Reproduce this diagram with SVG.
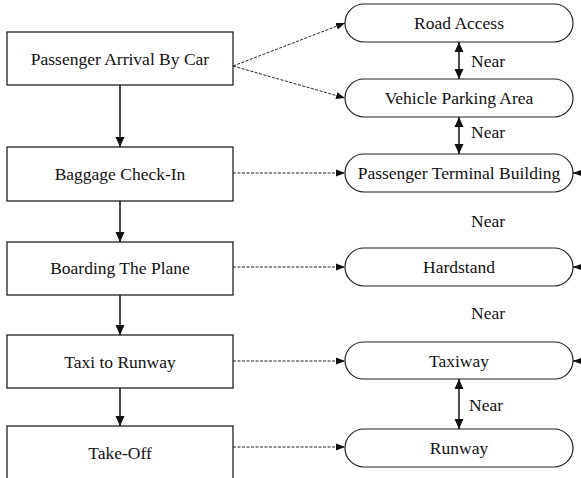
<svg xmlns="http://www.w3.org/2000/svg" width="581" height="478" viewBox="0 0 581 478">
  <style>
    .box { fill: #fff; stroke: #222; stroke-width: 1.3; }
    .pill { fill: #fff; stroke: #222; stroke-width: 1.2; }
    .lbl { font-family: "Liberation Serif", "DejaVu Serif", serif; font-size: 17.5px; fill: #111; text-anchor: middle; dominant-baseline: central; }
    .near { font-family: "Liberation Serif", "DejaVu Serif", serif; font-size: 17.5px; fill: #111; dominant-baseline: central; }
    .flow { stroke: #111; stroke-width: 1.5; fill: none; }
    .dash { stroke: #222; stroke-width: 1; stroke-dasharray: 3 1.5; fill: none; }
    .both { stroke: #111; stroke-width: 1.5; fill: none; }
  </style>
  <defs>
    <marker id="solid" markerWidth="10" markerHeight="10" refX="10" refY="5" orient="auto" markerUnits="userSpaceOnUse" viewBox="0 0 10 10">
      <path d="M0,0.5 L10,5 L0,9.5 Z" fill="#111"/>
    </marker>
    <marker id="small" markerWidth="9" markerHeight="8" refX="9" refY="4" orient="auto" markerUnits="userSpaceOnUse" viewBox="0 0 9 8">
      <path d="M0,0.5 L9,4 L0,7.5 Z" fill="#111"/>
    </marker>
    <marker id="dbl" markerWidth="10" markerHeight="10" refX="10" refY="5" orient="auto-start-reverse" markerUnits="userSpaceOnUse" viewBox="0 0 10 10">
      <path d="M0,0.5 L10,5 L0,9.5 Z" fill="#111"/>
    </marker>
  </defs>

  <!-- process steps -->
  <g id="arrival"><rect class="box" x="7" y="32" width="226" height="53"/><text class="lbl" x="120" y="59">Passenger Arrival By Car</text></g>
  <g id="checkin"><rect class="box" x="7" y="147" width="226" height="54"/><text class="lbl" x="120" y="174">Baggage Check-In</text></g>
  <g id="boarding"><rect class="box" x="7" y="242" width="226" height="53"/><text class="lbl" x="120" y="268">Boarding The Plane</text></g>
  <g id="taxi"><rect class="box" x="7" y="335" width="226" height="53"/><text class="lbl" x="120" y="362">Taxi to Runway</text></g>
  <g id="takeoff"><rect class="box" x="7" y="426" width="226" height="60"/><text class="lbl" x="120" y="453">Take-Off</text></g>

  <!-- facilities -->
  <g id="road"><rect class="pill" x="345" y="4" width="228" height="38" rx="19"/><text class="lbl" x="459" y="23">Road Access</text></g>
  <g id="parking"><rect class="pill" x="345" y="79" width="228" height="38" rx="19"/><text class="lbl" x="459" y="98">Vehicle Parking Area</text></g>
  <g id="terminal"><rect class="pill" x="345" y="154" width="228" height="38" rx="19"/><text class="lbl" x="459" y="173">Passenger Terminal Building</text></g>
  <g id="hardstand"><rect class="pill" x="345" y="248" width="228" height="38" rx="19"/><text class="lbl" x="459" y="267">Hardstand</text></g>
  <g id="taxiway"><rect class="pill" x="345" y="342" width="228" height="37" rx="18.5"/><text class="lbl" x="459" y="361">Taxiway</text></g>
  <g id="runway"><rect class="pill" x="345" y="429" width="228" height="38" rx="19"/><text class="lbl" x="459" y="448">Runway</text></g>

  <!-- connectors -->
  <g id="connectors">
    <line class="flow" x1="120" y1="85" x2="120" y2="147" marker-end="url(#solid)"/>
    <line class="flow" x1="120" y1="201" x2="120" y2="242" marker-end="url(#solid)"/>
    <line class="flow" x1="120" y1="295" x2="120" y2="335" marker-end="url(#solid)"/>
    <line class="flow" x1="120" y1="388" x2="120" y2="426" marker-end="url(#solid)"/>

    <line class="dash" x1="233" y1="66" x2="345" y2="23" marker-end="url(#small)"/>
    <line class="dash" x1="233" y1="66" x2="345" y2="98" marker-end="url(#small)"/>
    <line class="dash" x1="233" y1="173" x2="345" y2="173" marker-end="url(#small)"/>
    <line class="dash" x1="233" y1="267" x2="345" y2="267" marker-end="url(#small)"/>
    <line class="dash" x1="233" y1="361" x2="345" y2="361" marker-end="url(#small)"/>
    <line class="dash" x1="233" y1="447" x2="345" y2="447" marker-end="url(#small)"/>

    <line class="both" x1="459" y1="42" x2="459" y2="79" marker-start="url(#dbl)" marker-end="url(#dbl)"/>
    <line class="both" x1="459" y1="117" x2="459" y2="154" marker-start="url(#dbl)" marker-end="url(#dbl)"/>
    <line class="both" x1="459" y1="379" x2="459" y2="429" marker-start="url(#dbl)" marker-end="url(#dbl)"/>

    <line class="both" x1="590" y1="173" x2="573" y2="173" marker-end="url(#small)"/>
    <line class="both" x1="590" y1="267" x2="573" y2="267" marker-end="url(#small)"/>
    <line class="both" x1="590" y1="361" x2="573" y2="361" marker-end="url(#small)"/>

    <text class="near" x="471" y="61">Near</text>
    <text class="near" x="471" y="132">Near</text>
    <text class="near" x="471" y="221">Near</text>
    <text class="near" x="471" y="313">Near</text>
    <text class="near" x="469" y="405">Near</text>
  </g>
</svg>
